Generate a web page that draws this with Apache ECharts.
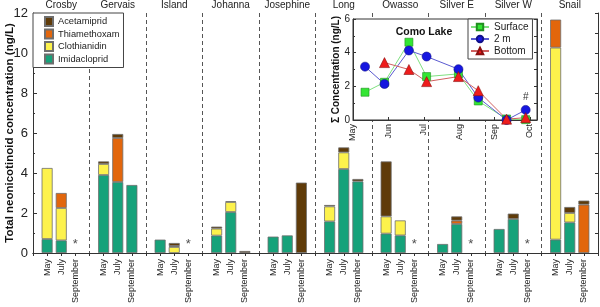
<!DOCTYPE html>
<html><head><meta charset="utf-8">
<script src="https://cdn.jsdelivr.net/npm/echarts@6/dist/echarts.min.js"></script>
<style>html,body{margin:0;padding:0;background:#fff}#c{width:600px;height:307px}</style>
</head><body><div id="c"></div>
<script>
// ---- data ----
const groups = ['Crosby','Gervais','Island','Johanna','Josephine','Long','Owasso','Silver E','Silver W','Snail'];
const months = ['May','July','September'];
// values per group: [May, July, September]
const imidacloprid = [0.70,0.63,null, 3.90,3.55,3.40, 0.67,null,null, 0.87,2.05,null, 0.82,0.88,null, 1.58,4.20,3.58, 0.97,0.88,null, 0.45,1.45,null, 1.20,1.70,null, 0.67,1.53,null];
const clothianidin = [3.55,1.62,null, 0.55,null,null, null,0.30,null, 0.35,0.50,null, null,null,null, 0.75,0.83,null, 0.86,0.75,null, null,null,null, null,null,null, 9.60,0.47,null];
const thiamethoxam = [null,0.75,null, null,2.20,null, null,0.05,null, null,null,null, null,null,null, null,null,null, null,null,null, null,0.17,null, null,null,null, 1.40,null,2.42];
const acetamiprid  = [null,null,null, 0.13,0.20,null, null,0.15,null, 0.10,0.04,0.10, null,null,3.52, 0.07,0.25,0.12, 2.75,null,null, null,0.21,null, null,0.27,null, null,0.30,0.20];
const notSampled = ['Crosby','Island','Owasso','Silver E','Silver W']; // September '*'
const yTicks = [0,2,4,6,8,10,12];

// inset (Como Lake), x = months after May 1
const insetMonths = ['May','Jun','Jul','Aug','Sep','Oct'];
const insetDates = [0.34,0.89,1.58,2.08,2.98,3.54,4.34,4.88];
const surface = [1.65,2.24,4.62,2.58,2.74,1.13,0.06,0.02];
const twoM    = [3.17,2.14,4.13,3.77,3.02,1.33,0.00,0.60];
const bottom  = [null,3.41,3.00,2.28,2.58,1.74,0.05,0.14];

// ---- build ----
const N = groups.length*4 + 1;
const bottomLabels = [], topLabels = [];
for (let i = 0; i < N; i++) {
  bottomLabels.push(i % 4 === 0 ? '' : months[i % 4 - 1]);
  topLabels.push(i % 4 === 2 ? groups[(i - 2) / 4] : '');
}
function slot(arr) {
  const out = new Array(N).fill(null);
  arr.forEach((v, k) => { const g = Math.floor(k / 3), m = k % 3; out[g * 4 + m + 1] = v; });
  return out;
}
const starData = new Array(N).fill(null);
notSampled.forEach(g => { starData[groups.indexOf(g) * 4 + 3] = 0.42; });

const FONT = 'Liberation Sans, Arial, sans-serif';
const colors = {Acetamiprid:'#5f3b09', Thiamethoxam:'#e2660c', Clothianidin:'#fdf24c', Imidacloprid:'#16a27a'};
function barSeries(name, arr) {
  return {name, type:'bar', stack:'t', xAxisIndex:0, yAxisIndex:0, barWidth:11,
    itemStyle:{color:colors[name], borderColor:'#6e6e6e', borderWidth:0.8},
    data: slot(arr)};
}
const pair = arr => insetDates.map((d, i) => arr[i] == null ? [d, null] : [d, arr[i]]).filter(p => p[1] != null);
const twoMData = pair(twoM).map((p, i, a) => i === a.length - 1 ?
  {value:p, label:{show:true, formatter:'#', position:'top', distance:3, fontSize:10, color:'#333', fontFamily:FONT}} : p);

const chart = echarts.init(document.getElementById('c'));
chart.setOption({
  animation:false,
  textStyle:{fontFamily:FONT},
  grid:[
    {left:33, right:2, top:13, bottom:54, show:false, containLabel:false, outerBoundsMode:'none'},
    {left:353, top:19, width:184, height:101, show:true, backgroundColor:'#fff', borderColor:'#333', borderWidth:1, z:10, containLabel:false, outerBoundsMode:'none'}
  ],
  legend:[
    {data:['Acetamiprid','Thiamethoxam','Clothianidin','Imidacloprid'].map(n => ({name:n, icon:'rect'})), orient:'vertical', left:33, top:13,
     padding:[3,4,3,11], itemGap:1.5, itemWidth:8, itemHeight:9, backgroundColor:'#fff', borderColor:'#444', borderWidth:1,
     textStyle:{fontSize:9.3, lineHeight:10, color:'#222', fontFamily:FONT}, z:20},
    {data:['Surface','2 m','Bottom'], orient:'vertical', left:468, top:19, padding:[3,4,3,2], itemGap:2,
     itemWidth:18, itemHeight:8, backgroundColor:'#fff', borderColor:'#444', borderWidth:1,
     textStyle:{fontSize:10, lineHeight:10, color:'#222', fontFamily:FONT}, z:30}
  ],
  title:{text:'Como Lake', left:419, top:22, textAlign:'center', textStyle:{fontSize:10.5, fontWeight:'bold', color:'#111', fontFamily:FONT}, z:30},
  xAxis:[
    {type:'category', gridIndex:0, data:bottomLabels, boundaryGap:false, position:'bottom',
     axisLine:{lineStyle:{color:'#333', width:1}},
     axisTick:{interval:i => i % 4 !== 0, length:3, lineStyle:{color:'#333'}},
     axisLabel:{interval:0, rotate:90, fontSize:9, color:'#222', margin:6},
     splitLine:{show:true, interval:i => i % 4 === 0 && i > 0 && i < N - 1, lineStyle:{type:[4,3], color:'#555', width:1}}},
    {type:'category', gridIndex:0, data:topLabels, boundaryGap:false, position:'top',
     axisLine:{lineStyle:{color:'#333', width:1}},
     axisTick:{interval:i => i % 4 === 0, inside:true, length:3, lineStyle:{color:'#333'}},
     axisLabel:{interval:0, fontSize:10, color:'#222', margin:3}},
    {type:'value', gridIndex:1, min:0, max:5.2, interval:1, position:'bottom', z:11,
     axisLine:{lineStyle:{color:'#333'}},
     axisTick:{inside:true, length:3, lineStyle:{color:'#333'}},
     axisLabel:{rotate:90, fontSize:9, color:'#222', margin:4, formatter:v => insetMonths[v] || '', showMaxLabel:false},
     splitLine:{show:false}},
  ],
  yAxis:[
    {type:'value', gridIndex:0, min:0, max:12, interval:2, position:'left',
     name:'Total neonicotinoid concentration (ng/L)', nameLocation:'middle', nameGap:17, nameMoveOverlap:false,
     nameTextStyle:{fontSize:11.5, fontWeight:'bold', color:'#111'},
     axisLine:{show:true, lineStyle:{color:'#333'}},
     axisTick:{show:true, inside:true, length:4, lineStyle:{color:'#333'}},
     minorTick:{show:true, splitNumber:2, length:2, lineStyle:{color:'#333'}},
     axisLabel:{fontSize:13, color:'#222', margin:5, formatter:v => yTicks.includes(v) ? String(v) : ''},
     splitLine:{show:false}},
    {type:'value', gridIndex:0, min:0, max:12, interval:1, position:'right',
     axisLine:{show:true, lineStyle:{color:'#333'}},
     axisTick:{show:true, inside:true, length:3, lineStyle:{color:'#333'}},
     axisLabel:{show:false}, splitLine:{show:false}},
    {type:'value', gridIndex:1, min:0, max:6, interval:2, position:'left', z:11,
     name:'Σ Concentration (ng/L)', nameLocation:'middle', nameGap:12, nameMoveOverlap:false,
     nameTextStyle:{fontSize:10, fontWeight:'bold', color:'#111'},
     axisLine:{show:true, lineStyle:{color:'#333'}},
     axisTick:{show:true, inside:true, length:3, lineStyle:{color:'#333'}},
     minorTick:{show:true, splitNumber:2, length:2, lineStyle:{color:'#333'}},
     axisLabel:{fontSize:10, color:'#222', margin:3},
     splitLine:{show:false}},
    {type:'value', gridIndex:1, min:0, max:6, interval:1, position:'right', z:11,
     axisLine:{show:true, lineStyle:{color:'#333'}},
     axisTick:{show:true, inside:true, length:3, lineStyle:{color:'#333'}},
     axisLabel:{show:false}, splitLine:{show:false}}
  ],
  series:[
    barSeries('Imidacloprid', imidacloprid),
    barSeries('Clothianidin', clothianidin),
    barSeries('Thiamethoxam', thiamethoxam),
    barSeries('Acetamiprid', acetamiprid),
    {type:'scatter', xAxisIndex:0, yAxisIndex:0, data:starData, symbolSize:1, itemStyle:{color:'rgba(0,0,0,0)'},
     label:{show:true, formatter:'*', position:'inside', fontSize:13, color:'#222'}, silent:true},
    {name:'Surface', type:'line', xAxisIndex:2, yAxisIndex:2, data:pair(surface), symbol:'rect', symbolSize:8, z:12,
     lineStyle:{color:'#7fe07f', width:1}, itemStyle:{color:'#33e633', borderColor:'#1f8f1f', borderWidth:0.6}},
    {name:'2 m', type:'line', xAxisIndex:2, yAxisIndex:2, data:twoMData, symbol:'circle', symbolSize:9, z:12,
     lineStyle:{color:'#5a5ad0', width:1}, itemStyle:{color:'#1616e0', borderColor:'#10108a', borderWidth:0.6}},
    {name:'Bottom', type:'line', xAxisIndex:2, yAxisIndex:2, data:pair(bottom), symbol:'triangle', symbolSize:10, z:12,
     lineStyle:{color:'#d06060', width:1}, itemStyle:{color:'#ee1c1c', borderColor:'#8a1010', borderWidth:0.6}}
  ]
});
</script></body></html>
